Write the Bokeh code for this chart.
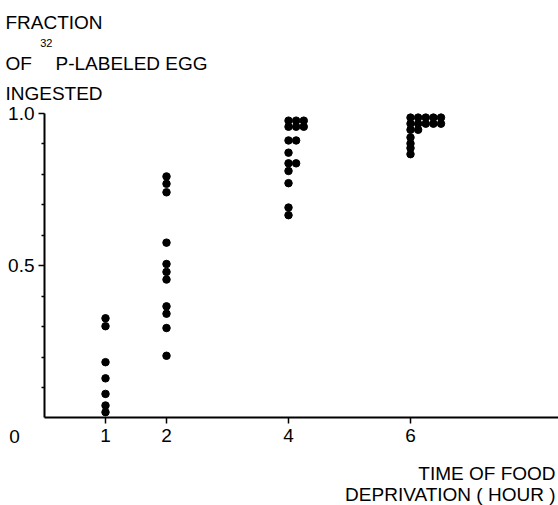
from bokeh.plotting import figure
from bokeh.models import (Range1d, FixedTicker, Label, LinearAxis, ColumnDataSource,
                          NumeralTickFormatter)
from bokeh.embed import file_html
from bokeh.resources import INLINE

# Hours of food deprivation and the fraction of labelled egg each animal ingested.
hours = [1, 2, 4, 6]
frac_1h = [0.327, 0.301, 0.183, 0.130, 0.079, 0.041, 0.019]
frac_2h = [0.792, 0.768, 0.740, 0.575, 0.505, 0.479, 0.454, 0.366, 0.342, 0.295, 0.204]
frac_4h = [0.975, 0.975, 0.975, 0.955, 0.955, 0.955, 0.91, 0.91, 0.87,
           0.835, 0.835, 0.81, 0.77, 0.69, 0.665]
frac_6h = [0.985] * 5 + [0.965] * 5 + [0.945, 0.945, 0.92, 0.90, 0.885, 0.865]
x_tick_labels = ["1", "2", "4", "6"]
y_ticks = [0.5, 1.0]
y_minor = [0.1, 0.2, 0.3, 0.4, 0.6, 0.7, 0.8, 0.9]

FONT = "Liberation Sans"
FS = "19px"
DOT_STEP = 0.125  # equal values sit side by side, one dot width apart

xs, ys = [], []
for h, vals in zip(hours, [frac_1h, frac_2h, frac_4h, frac_6h]):
    seen = {}
    for v in vals:
        k = seen.get(v, 0)
        seen[v] = k + 1
        xs.append(h + k * DOT_STEP)
        ys.append(v)
src = ColumnDataSource(dict(x=xs, y=ys))

# the plotting frame fills the page; the axes sit at the data origin
p = figure(width=558, height=505, output_backend="svg", toolbar_location=None,
           x_range=Range1d(-0.7213, 8.426), y_range=Range1d(-0.2869, 1.3689),
           min_border=0, x_axis_type=None, y_axis_type=None)
p.outline_line_color = None
p.background_fill_color = "white"
p.border_fill_color = "white"

yaxis = LinearAxis(ticker=FixedTicker(ticks=y_ticks, minor_ticks=y_minor),
                   bounds=(0, 1.0), fixed_location=0,
                   formatter=NumeralTickFormatter(format="0.0"))
yaxis.axis_line_width = 2
yaxis.major_tick_out = 6
yaxis.major_tick_in = 0
yaxis.minor_tick_out = 3
yaxis.minor_tick_in = 0
yaxis.major_tick_line_width = 1.5
yaxis.minor_tick_line_width = 1.5
yaxis.major_label_standoff = 4
yaxis.major_label_text_font = FONT
yaxis.major_label_text_font_size = FS
yaxis.major_label_text_color = "black"
p.add_layout(yaxis, "left")

xaxis = LinearAxis(ticker=FixedTicker(ticks=hours), bounds=(0, 8.426), fixed_location=0)
xaxis.major_label_overrides = {h: t for h, t in zip(hours, x_tick_labels)}
xaxis.axis_line_width = 2
xaxis.major_tick_out = 6
xaxis.major_tick_in = 0
xaxis.minor_tick_line_color = None
xaxis.major_tick_line_width = 1.5
xaxis.major_label_standoff = 5
xaxis.major_label_text_font = FONT
xaxis.major_label_text_font_size = FS
xaxis.major_label_text_color = "black"
p.add_layout(xaxis, "below")

p.scatter("x", "y", source=src, size=7.5, color="black")


def lab(text, x, y, size=FS, align="left", baseline="alphabetic"):
    p.add_layout(Label(x=x, y=y, text=text, text_font=FONT, text_font_size=size,
                       text_align=align, text_baseline=baseline, text_color="black"))


# axis titles and the origin mark
lab("FRACTION", -0.64, 1.297)
lab("OF", -0.64, 1.162)
lab("32", -0.07, 1.231, size="11px")
lab("P-LABELED EGG", 0.18, 1.162)
lab("INGESTED", -0.64, 1.064)
lab("0", -0.49, -0.038, baseline="top", align="center")
lab("TIME OF FOOD", 8.377, -0.182, align="right")
lab("DEPRIVATION ( HOUR )", 8.377, -0.252, align="right")

open("out.html", "w").write(file_html(p, INLINE))
